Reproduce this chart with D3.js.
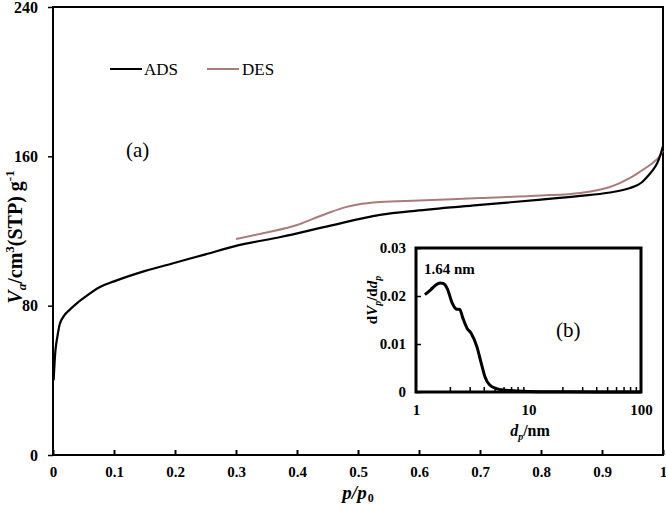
<!DOCTYPE html>
<html><head><meta charset="utf-8">
<script src="https://cdn.jsdelivr.net/npm/d3@7/dist/d3.min.js"></script>
<style>body{margin:0;background:#fff}svg{display:block}text{font-family:"Liberation Serif","Times New Roman",serif}</style>
</head><body>
<script>
// Main isotherm data (p/p0, V_a)
const adsP = [0.001,0.004,0.007,0.011,0.018,0.028,0.04,0.05,0.077,0.1,0.15,0.2,0.25,0.3,0.373,0.45,0.536,0.6,0.7,0.8,0.864,0.91,0.946,0.965,0.974,0.983,0.99,0.996,1.0];
const adsV = [40,56,63,70,74.5,78,81.5,84,90,93,98.5,103,107.5,112,116.8,122.5,128.6,131,134,136.8,138.8,140.5,143,146,149,152.5,156,161,165.5];
const desP = [0.3,0.35,0.4,0.426,0.45,0.48,0.5,0.536,0.6,0.7,0.8,0.864,0.913,0.93,0.946,0.96,0.974,0.985,0.993,1.0];
const desV = [115.7,119.2,123.2,126.5,129.5,132.8,134.2,135.5,136.3,137.7,139,140.4,143.6,145.8,148.4,151.3,154.3,157,159.5,163];
// Inset PSD data (d_p nm, dV/dd)
const psdD = [1.2,1.35,1.5,1.64,1.75,1.9,2.1,2.27,2.45,2.6,2.84,3.1,3.48,3.8,4.1,4.5,5.2,6,7,8,10,15,20,40,70,100];
const psdV = [0.0203,0.0213,0.0223,0.0227,0.0226,0.0215,0.0185,0.0173,0.0172,0.0155,0.0133,0.0122,0.0094,0.0060,0.0032,0.0015,0.0007,0.0004,0.0003,0.0002,0.0001,0.00005,0.00003,0.00002,0.00001,0.00001];
const xTicks = [0,0.1,0.2,0.3,0.4,0.5,0.6,0.7,0.8,0.9,1];
const yTicks = [0,80,160,240];
const insetYTicks = [0,0.01,0.02,0.03];
const insetXTicks = [1,10,100];

const W=666,H=511;
const svg=d3.select("body").append("svg").attr("width",W).attr("height",H);
const x=d3.scaleLinear().domain([0,1]).range([53,663]);
const y=d3.scaleLinear().domain([0,240]).range([455,7]);

svg.append("rect").attr("x",53).attr("y",7).attr("width",610).attr("height",448)
  .attr("fill","none").attr("stroke","#000").attr("stroke-width",2);

const xa=svg.append("g").attr("transform","translate(0,455)")
  .call(d3.axisBottom(x).tickValues(xTicks).tickSize(-5).tickPadding(11).tickFormat(d=>d3.format("")(d)));
xa.select(".domain").remove();
xa.selectAll("line").attr("stroke-width",2);
xa.selectAll("text").attr("font-size",15).attr("font-weight","bold").attr("fill","#000");

const ya=svg.append("g").attr("transform","translate(53,0)")
  .call(d3.axisLeft(y).tickValues(yTicks).tickSize(5).tickPadding(10));
ya.select(".domain").remove();
ya.selectAll("line").attr("stroke-width",1.5);
ya.selectAll("text").attr("font-size",16).attr("font-weight","bold").attr("fill","#000");

const line=d3.line().x(d=>x(d[0])).y(d=>y(d[1])).curve(d3.curveMonotoneX);
svg.append("path").datum(desP.map((p,i)=>[p,desV[i]])).attr("d",line)
  .attr("fill","none").attr("stroke","#a77c7a").attr("stroke-width",2);
svg.append("path").datum(adsP.map((p,i)=>[p,adsV[i]])).attr("d",line)
  .attr("fill","none").attr("stroke","#000").attr("stroke-width",2.2);

svg.append("line").attr("x1",110).attr("x2",142).attr("y1",69).attr("y2",69).attr("stroke","#000").attr("stroke-width",2);
svg.append("text").attr("x",144).attr("y",75).attr("font-size",17).text("ADS");
svg.append("line").attr("x1",207).attr("x2",239).attr("y1",69).attr("y2",69).attr("stroke","#a77c7a").attr("stroke-width",2);
svg.append("text").attr("x",242).attr("y",75).attr("font-size",17).text("DES");

svg.append("text").attr("x",126).attr("y",157).attr("font-size",21).text("(a)");

const yt=svg.append("text").attr("transform","translate(22,237) rotate(-90)").attr("text-anchor","middle")
  .attr("font-size",20).attr("font-weight","bold");
yt.append("tspan").attr("font-style","italic").text("V");
yt.append("tspan").attr("font-style","italic").attr("font-size",13).attr("dy",4).text("a");
yt.append("tspan").attr("dy",-4).text("/cm");
yt.append("tspan").attr("font-size",13).attr("dy",-8).text("3");
yt.append("tspan").attr("dy",8).text("(STP) g");
yt.append("tspan").attr("font-size",13).attr("dy",-8).text("-1");

const xt=svg.append("text").attr("x",358).attr("y",499).attr("text-anchor","middle").attr("font-size",19).attr("font-weight","bold");
xt.append("tspan").attr("font-style","italic").text("p/p");
xt.append("tspan").attr("font-size",12).attr("dy",3).attr("dx",1).text("0");

// Inset
const ix=d3.scaleLog().domain([1,100]).range([416,641]);
const iy=d3.scaleLinear().domain([0,0.03]).range([392,248]);
svg.append("rect").attr("x",416).attr("y",248).attr("width",225).attr("height",144)
  .attr("fill","#fff").attr("stroke","#000").attr("stroke-width",3);

const minor=[];
for(let k=1;k<=10;k*=10) for(let m=2;m<=9;m++) minor.push(k*m);
const ixa=svg.append("g").attr("transform","translate(0,392)")
  .call(d3.axisBottom(ix).tickValues(minor).tickSize(-5).tickFormat(""));
ixa.select(".domain").remove();
ixa.selectAll("line").attr("stroke-width",1.5);
const ixl=svg.append("g").attr("transform","translate(0,392)")
  .call(d3.axisBottom(ix).tickValues(insetXTicks).tickSize(0).tickPadding(12).tickFormat(d3.format("")));
ixl.select(".domain").remove();
ixl.selectAll("text").attr("font-size",15).attr("font-weight","bold").attr("fill","#000");

const iya=svg.append("g").attr("transform","translate(416,0)")
  .call(d3.axisLeft(iy).tickValues(insetYTicks).tickSize(-5).tickPadding(10).tickFormat(d=>d3.format("")(d)));
iya.select(".domain").remove();
iya.selectAll("line").attr("stroke-width",1.5);
iya.selectAll("text").attr("font-size",15).attr("font-weight","bold").attr("fill","#000");

const iline=d3.line().x(d=>ix(d[0])).y(d=>iy(d[1])).curve(d3.curveMonotoneX);
svg.append("path").datum(psdD.map((d,i)=>[d,psdV[i]])).attr("d",iline)
  .attr("fill","none").attr("stroke","#000").attr("stroke-width",3);

svg.append("text").attr("x",424).attr("y",274).attr("font-size",15).attr("font-weight","bold").text("1.64 nm");
svg.append("text").attr("x",556).attr("y",337).attr("font-size",21).attr("font-family","Open Sans, sans-serif").text("(b)");

const iyt=svg.append("text").attr("transform","translate(377,300) rotate(-90)").attr("text-anchor","middle")
  .attr("font-size",15).attr("font-weight","bold");
iyt.append("tspan").text("d");
iyt.append("tspan").attr("font-style","italic").text("V");
iyt.append("tspan").attr("font-style","italic").attr("font-size",10).attr("dy",4).text("p");
iyt.append("tspan").attr("dy",-4).text("/d");
iyt.append("tspan").attr("font-style","italic").text("d");
iyt.append("tspan").attr("font-style","italic").attr("font-size",10).attr("dy",4).text("p");

const ixt=svg.append("text").attr("x",530).attr("y",436).attr("text-anchor","middle").attr("font-size",16).attr("font-weight","bold");
ixt.append("tspan").attr("font-style","italic").text("d");
ixt.append("tspan").attr("font-style","italic").attr("font-size",10).attr("dy",4).text("p");
ixt.append("tspan").attr("dy",-4).text("/nm");
</script>
</body></html>
